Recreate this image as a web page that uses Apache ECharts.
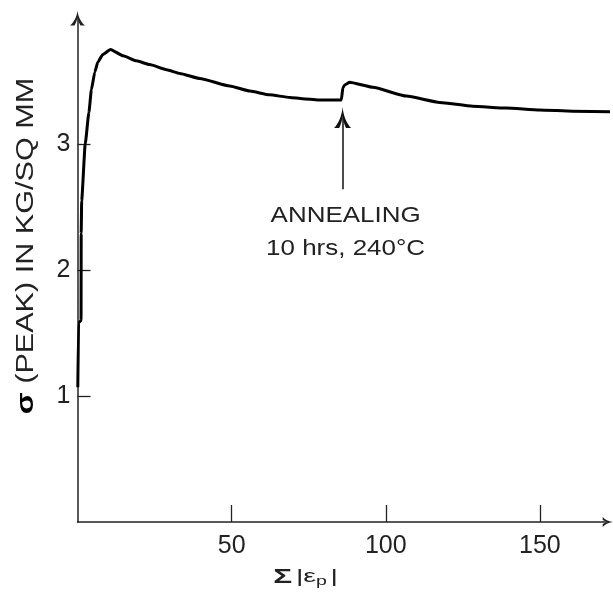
<!DOCTYPE html>
<html><head><meta charset="utf-8">
<script src="https://cdn.jsdelivr.net/npm/echarts@6/dist/echarts.min.js"></script>
<style>html,body{margin:0;padding:0;background:#fff}#c{width:613px;height:592px}</style>
</head><body><div id="c"></div>
<script>
// ---- data ----
const strainSum = [0.1, 0.35, 1.15, 1.2, 1.35, 2.5, 3.7, 4.5, 5.6, 6.6, 8.2, 10.7, 14.8, 19.1, 23.4, 28.9, 33.2, 39.7, 49.4, 55.9, 62.3, 68.9, 73.0, 78.0, 85.6, 86.1, 86.8, 88.3, 95.8, 106.7, 117.5, 128.2, 139.1, 149.9, 160.6, 173.5];
const peakStress = [1.07, 1.58, 1.60, 2.29, 2.55, 3.00, 3.25, 3.43, 3.57, 3.65, 3.71, 3.75, 3.70, 3.66, 3.63, 3.59, 3.56, 3.52, 3.46, 3.42, 3.39, 3.37, 3.36, 3.35, 3.35, 3.45, 3.47, 3.49, 3.45, 3.38, 3.33, 3.30, 3.285, 3.27, 3.26, 3.255];
const xTicks = [50, 100, 150];
const yTicks = [1, 2, 3];
const annotX = 86;
const annotArrowFrom = 2.64;
const annotArrowTo = 3.21;
const annotLines = ['ANNEALING', '10 hrs, 240°C'];
const annotLineY = [2.43, 2.17];
const yTitle = '{b|σ} (PEAK) IN KG/SQ MM';
const xTitle = '{s|Σ}{g| }|ε{p|p}{g| }|';
const xTitleAt = 74;

const FONT = 'Liberation Sans, Arial, sans-serif';
const INK = '#222';
const ARROW = 'path://M50,0 C45,45 26,78 0,100 L30,100 C42,80 47,62 50,45 C53,62 58,80 70,100 L100,100 C74,78 55,45 50,0 Z';

const chart = echarts.init(document.getElementById('c'), null, {renderer: 'canvas'});
const option = {
  animation: false,
  backgroundColor: '#fff',
  grid: {left: 77.5, right: 5.3, top: 18, bottom: 70, containLabel: false},
  xAxis: {
    type: 'value', min: 0, max: 172,
    axisLine: {show: true, onZero: false, symbol: ['none', ARROW], symbolSize: [11, 10], lineStyle: {color: INK, width: 1.5}},
    axisTick: {show: true, inside: true, length: 17, customValues: xTicks, lineStyle: {color: INK, width: 1.3}},
    axisLabel: {show: true, customValues: xTicks, fontSize: 25, fontFamily: FONT, color: INK, margin: 12},
    splitLine: {show: false}
  },
  yAxis: {
    type: 'value', min: 0, max: 4,
    axisLine: {show: true, onZero: false, symbol: ['none', ARROW], symbolSize: [15, 19], lineStyle: {color: INK, width: 1.5}},
    axisTick: {show: true, inside: true, length: 13, customValues: yTicks, lineStyle: {color: INK, width: 1.3}},
    axisLabel: {show: true, customValues: yTicks, fontSize: 25, fontFamily: FONT, color: INK, margin: 7},
    splitLine: {show: false}
  },
  series: [{
    type: 'line',
    data: strainSum.map((x, i) => [x, peakStress[i]]),
    symbol: 'none',
    smooth: 0.15,
    smoothMonotone: 'x',
    clip: false,
    lineStyle: {color: '#000', width: 3},
    markLine: {
      silent: true,
      animation: false,
      label: {show: false},
      lineStyle: {color: '#111', width: 1.5, type: 'solid'},
      data: [[
        {coord: [annotX, annotArrowFrom], symbol: 'none'},
        {coord: [annotX, annotArrowTo], symbol: ARROW, symbolSize: [17, 21]}
      ]]
    }
  }]
};
chart.setOption(option);

const graphics = [];
annotLines.forEach((t, i) => {
  const p = chart.convertToPixel({gridIndex: 0}, [annotX, annotLineY[i]]);
  graphics.push({
    type: 'text', x: p[0] + 3, y: p[1], scaleX: 1.18, silent: true,
    style: {text: t, fontSize: 22, fontFamily: FONT, fill: INK, align: 'center', verticalAlign: 'middle', textAlign: 'center', textVerticalAlign: 'middle'}
  });
});
const origin = chart.convertToPixel({gridIndex: 0}, [0, 0]);
graphics.push({
  type: 'text', x: origin[0] - 51, y: 246, rotation: Math.PI / 2, scaleX: 1.33, silent: true,
  style: {text: yTitle, fontSize: 23, fontFamily: FONT, fill: INK, align: 'center', verticalAlign: 'middle', textAlign: 'center', textVerticalAlign: 'middle',
    rich: {b: {fontSize: 24, fontWeight: 'bold', fontFamily: FONT, fill: '#000'}}}
});
const xp = chart.convertToPixel({gridIndex: 0}, [xTitleAt, 0]);
graphics.push({
  type: 'text', x: xp[0], y: xp[1] + 55, scaleX: 1.5, silent: true,
  style: {text: xTitle, fontSize: 19, fontFamily: FONT, fill: INK, align: 'center', verticalAlign: 'middle', textAlign: 'center', textVerticalAlign: 'middle',
    rich: {
      s: {fontSize: 21, fontWeight: 'bold', fontFamily: FONT, fill: INK, verticalAlign: 'middle'},
      g: {fontSize: 9, fontFamily: FONT, fill: INK},
      p: {fontSize: 13, fontFamily: FONT, fill: INK, verticalAlign: 'bottom', padding: [8, 0, 0, 0]}
    }}
});
chart.setOption({graphic: {elements: graphics}});
</script>
</body></html>
